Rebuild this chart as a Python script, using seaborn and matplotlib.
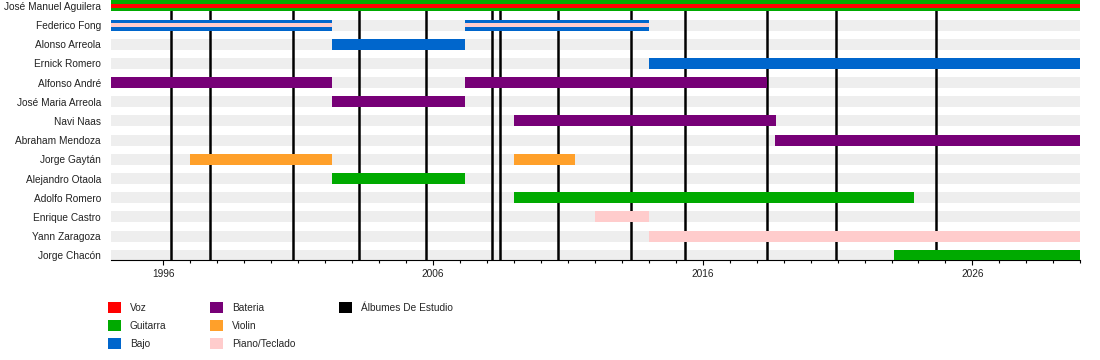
import matplotlib
matplotlib.use("Agg")
import matplotlib.pyplot as plt
from matplotlib.patches import Patch
from matplotlib.ticker import FixedLocator
import pandas as pd
import seaborn as sns

members = ["José Manuel Aguilera", "Federico Fong", "Alonso Arreola", "Ernick Romero",
           "Alfonso André", "José Maria Arreola", "Navi Naas", "Abraham Mendoza",
           "Jorge Gaytán", "Alejandro Otaola", "Adolfo Romero", "Enrique Castro",
           "Yann Zaragoza", "Jorge Chacón"]

roles = ["Voz", "Guitarra", "Bajo", "Bateria", "Violin", "Piano/Teclado"]
role_colors = ["#ff0000", "#00aa00", "#0066cc", "#770077", "#ffa02a", "#ffcccc"]

# main stints
stint_member = ["José Manuel Aguilera", "Federico Fong", "Federico Fong", "Alonso Arreola",
                "Ernick Romero", "Alfonso André", "Alfonso André", "José Maria Arreola",
                "Navi Naas", "Abraham Mendoza", "Jorge Gaytán", "Jorge Gaytán",
                "Alejandro Otaola", "Adolfo Romero", "Enrique Castro", "Yann Zaragoza",
                "Jorge Chacón"]
stint_start = [1994.0, 1994.0, 2007.17, 2002.25, 2014.0, 1994.0, 2007.17, 2002.25,
               2009.0, 2018.68, 1997.0, 2009.0, 2002.25, 2009.0, 2012.0, 2014.0, 2023.1]
stint_end = [2030.0, 2002.25, 2014.0, 2007.17, 2030.0, 2002.25, 2018.37, 2007.17,
             2018.72, 2030.0, 2002.25, 2011.27, 2007.17, 2023.83, 2014.0, 2030.0, 2030.0]
stint_role = ["Guitarra", "Bajo", "Bajo", "Bajo", "Bajo", "Bateria", "Bateria", "Bateria",
              "Bateria", "Bateria", "Violin", "Violin", "Guitarra", "Guitarra",
              "Piano/Teclado", "Piano/Teclado", "Guitarra"]

# second role, drawn as a thin stripe inside the bar
extra_member = ["José Manuel Aguilera", "Federico Fong", "Federico Fong"]
extra_start = [1994.0, 1994.0, 2007.17]
extra_end = [2030.0, 2002.25, 2014.0]
extra_role = ["Voz", "Piano/Teclado", "Piano/Teclado"]

albums = [1996.3, 1997.75, 2000.8, 2003.25, 2005.75, 2008.2, 2008.5, 2010.65,
          2013.35, 2015.35, 2018.4, 2020.95, 2024.65]

year_ticks = [1996, 2006, 2016, 2026]
t_start, t_end = 1994.05, 2030.0

sns.set_style("white")
plt.rcParams['font.family'] = ['Liberation Sans', 'DejaVu Sans']

color_of = dict(zip(roles, role_colors))
row_of = {m: i for i, m in enumerate(members)}

stints = pd.DataFrame({"member": stint_member, "start": stint_start,
                       "end": stint_end, "role": stint_role})
extras = pd.DataFrame({"member": extra_member, "start": extra_start,
                       "end": extra_end, "role": extra_role})

fig = plt.figure(figsize=(11, 3.6), dpi=100)
ax = fig.add_axes([0.1006, 0.2778, 0.8815, 0.7222])

bh = 0.574
# background bands
ax.barh(range(len(members)), t_end - t_start, left=t_start, height=bh,
        color="#eeeeee", linewidth=0, zorder=1)
ax.vlines(albums, 0, 13.4, color="black", lw=1.8, zorder=2)
ax.barh(stints.member.map(row_of), stints.end - stints.start, left=stints.start,
        height=bh, color=stints.role.map(color_of), linewidth=0, zorder=3)
ax.barh(extras.member.map(row_of), extras.end - extras.start, left=extras.start,
        height=bh * 0.42, color=extras.role.map(color_of), linewidth=0, zorder=4)

ax.set_xlim(t_start, t_end)
ax.set_ylim(13.25, -0.31)
ax.set_yticks(range(len(members)))
ax.set_yticklabels(members, fontsize=7.3, color="#222222")
ax.tick_params(axis="y", length=0, pad=7)

ax.set_xticks(year_ticks)
ax.set_xticklabels([str(y) for y in year_ticks], fontsize=7.3, color="#222222")
ax.xaxis.set_minor_locator(FixedLocator(list(range(1996, 2031))))
ax.tick_params(axis="x", which="major", direction="out", length=3.6, width=0.8,
               color="black", pad=3, bottom=True)
ax.tick_params(axis="x", which="minor", direction="out", length=2.2, width=0.8,
               color="black", bottom=True)
sns.despine(ax=ax, left=True, top=True, right=True)
ax.spines["bottom"].set_color("black")
ax.spines["bottom"].set_linewidth(0.8)

handles = [Patch(facecolor=c, linewidth=0) for c in role_colors] + \
          [Patch(facecolor="black", linewidth=0)] + \
          [Patch(facecolor="none", linewidth=0) for _ in range(2)]
labels = roles + ["Álbumes De Estudio", "", ""]
fig.legend(handles, labels, ncol=3, loc="upper left", bbox_to_anchor=(0.098, 0.1610),
           frameon=False, fontsize=7.3, handlelength=1.28, handleheight=1.28,
           handletextpad=0.9, columnspacing=4.3, labelspacing=0.72,
           borderpad=0, borderaxespad=0)

fig.savefig("out.png", dpi=100)
